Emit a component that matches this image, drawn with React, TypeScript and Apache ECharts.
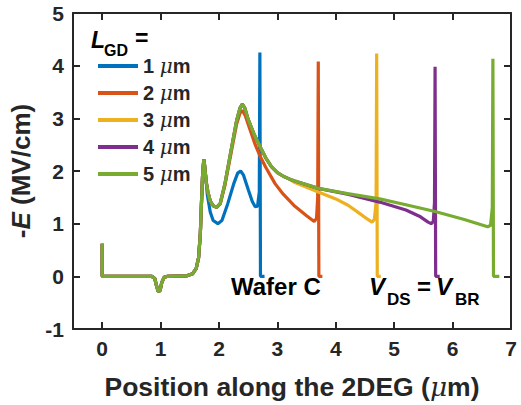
import React, { useEffect, useRef } from 'react';
import * as echarts from 'echarts';

const FONT = '"Liberation Sans", Arial, Helvetica, sans-serif';
const INK = '#262626';

const xTicks = [0, 1, 2, 3, 4, 5, 6, 7];
const seriesNames = ['1 μm', '2 μm', '3 μm', '4 μm', '5 μm'];
const colors = ['#0072BD', '#D95319', '#EDB120', '#7E2F8E', '#77AC30'];

// shared part of all curves (source side, first peak)
const commonStart = [
  [0, 0.62], [0, 0], [0.85, 0], [0.9, -0.04], [0.93, -0.18], [0.96, -0.29], [0.99, -0.27],
  [1.02, -0.12], [1.06, -0.02], [1.12, 0], [1.45, 0.01], [1.55, 0.05], [1.61, 0.15],
  [1.65, 0.35], [1.68, 0.8], [1.7, 1.4], [1.72, 1.95], [1.74, 2.22], [1.76, 2.05], [1.78, 1.8],
];

const blueTail = [
  [1.8, 1.55], [1.85, 1.22], [1.9, 1.06], [1.98, 1.0], [2.05, 1.06], [2.15, 1.38], [2.25, 1.75],
  [2.32, 1.96], [2.37, 2.0], [2.42, 1.92], [2.5, 1.65], [2.57, 1.42], [2.62, 1.32], [2.66, 1.33],
  [2.69, 1.6], [2.7, 4.25], [2.71, 0], [2.78, 0],
];

const orangeTail = [
  [1.81, 1.6], [1.85, 1.43], [1.9, 1.34], [1.96, 1.31], [2.02, 1.37], [2.1, 1.72], [2.2, 2.3],
  [2.3, 2.88], [2.36, 3.1], [2.4, 3.15], [2.45, 3.05], [2.52, 2.82], [2.62, 2.5], [2.7, 2.29],
  [2.8, 2.07], [2.96, 1.76], [3.1, 1.56], [3.3, 1.33], [3.5, 1.15], [3.63, 1.04], [3.67, 1.1],
  [3.69, 1.5], [3.7, 4.08], [3.71, 0], [3.77, 0],
];

const secondPeak = [
  [1.81, 1.6], [1.85, 1.43], [1.9, 1.34], [1.96, 1.31], [2.02, 1.38], [2.1, 1.75], [2.2, 2.35],
  [2.3, 2.95], [2.36, 3.2], [2.4, 3.27], [2.44, 3.2], [2.5, 2.98], [2.6, 2.7], [2.7, 2.47],
  [2.8, 2.25], [2.9, 2.08], [3.0, 1.97], [3.1, 1.9], [3.2, 1.85],
];

const yellowTail = [
  [3.3, 1.78], [3.7, 1.6], [4.0, 1.47], [4.21, 1.35], [4.4, 1.2], [4.55, 1.08], [4.62, 1.03],
  [4.66, 1.08], [4.69, 1.4], [4.7, 4.23], [4.71, 0], [4.77, 0],
];

const purpleTail = [
  [3.3, 1.81], [3.7, 1.67], [4.2, 1.56], [4.75, 1.41], [5.2, 1.26], [5.45, 1.13], [5.58, 1.03],
  [5.64, 1.0], [5.67, 1.05], [5.69, 1.4], [5.7, 3.98], [5.71, 0], [5.78, 0],
];

const greenTail = [
  [3.3, 1.81], [3.7, 1.67], [4.2, 1.57], [4.75, 1.47], [5.2, 1.36], [5.7, 1.23], [6.2, 1.08],
  [6.6, 0.94], [6.65, 0.97], [6.68, 1.3], [6.69, 4.13], [6.7, 0], [6.8, 0],
];

const seriesData = [
  [...commonStart, ...blueTail],
  [...commonStart, ...orangeTail],
  [...commonStart, ...secondPeak, ...yellowTail],
  [...commonStart, ...secondPeak, ...purpleTail],
  [...commonStart, ...secondPeak, ...greenTail],
];

export default function App() {
  const ref = useRef<HTMLDivElement>(null);
  useEffect(() => {
    const chart = echarts.init(ref.current!, null, { renderer: 'svg' });
    const lineStyle = { color: INK, width: 2 };
    const txt = (extra: any) => ({ color: INK, fontFamily: FONT, fontWeight: 'bold', ...extra });
    chart.setOption({
      animation: false,
      backgroundColor: '#ffffff',
      color: colors,
      grid: { left: 73, right: 10, top: 13, bottom: 74, containLabel: false },
      xAxis: [
        {
          type: 'value', min: -0.5, max: 7, position: 'bottom',
          axisLine: { show: true, onZero: false, lineStyle },
          axisTick: { show: true, inside: true, length: 7, customValues: xTicks, lineStyle },
          axisLabel: { customValues: xTicks, margin: 9, ...txt({ fontSize: 21 }) },
          splitLine: { show: false },
          name: '{a|Position along the 2DEG (}{i|μ}{a|m)}',
          nameLocation: 'middle', nameGap: 44,
          nameTextStyle: txt({
            fontSize: 26,
            rich: {
              a: txt({ fontSize: 26.5 }),
              i: txt({ fontSize: 26.5, fontStyle: 'italic', fontFamily: '"DejaVu Serif", serif', fontWeight: 'normal' }),
            },
          }),
        },
        {
          type: 'value', min: -0.5, max: 7, position: 'top',
          axisLine: { show: true, onZero: false, lineStyle },
          axisTick: { show: true, inside: true, length: 7, customValues: xTicks, lineStyle },
          axisLabel: { show: false },
          splitLine: { show: false },
        },
      ],
      yAxis: [
        {
          type: 'value', min: -1, max: 5, interval: 1, position: 'left',
          axisLine: { show: true, onZero: false, lineStyle },
          axisTick: { show: true, inside: true, length: 7, lineStyle },
          axisLabel: { margin: 9, ...txt({ fontSize: 21 }) },
          splitLine: { show: false },
          name: '{a|-}{i|E}{a| (MV/cm)}',
          nameLocation: 'middle', nameGap: 37, nameRotate: 90,
          nameTextStyle: txt({
            fontSize: 26,
            rich: {
              a: txt({ fontSize: 26 }),
              i: txt({ fontSize: 26, fontStyle: 'italic' }),
            },
          }),
        },
        {
          type: 'value', min: -1, max: 5, interval: 1, position: 'right',
          axisLine: { show: true, onZero: false, lineStyle },
          axisTick: { show: true, inside: true, length: 7, lineStyle },
          axisLabel: { show: false },
          splitLine: { show: false },
        },
      ],
      legend: {
        orient: 'vertical', left: 93, top: 51,
        icon: 'rect', itemWidth: 40, itemHeight: 4, itemGap: 7,
        data: seriesNames,
        formatter: (name: string) => `{n|${name.split(' ')[0]} }{i|μ}{n|m}`,
        textStyle: txt({
          fontSize: 20, lineHeight: 20,
          rich: {
            n: txt({ fontSize: 20, lineHeight: 20 }),
            i: txt({ fontSize: 20, lineHeight: 20, fontStyle: 'italic', fontFamily: '"DejaVu Serif", serif', fontWeight: 'normal' }),
          },
        }),
      },
      graphic: [
        { type: 'text', left: 91, top: 28, style: txt({ text: 'L', fontSize: 23, fontStyle: 'italic' }) },
        { type: 'text', left: 104, top: 42, style: txt({ text: 'GD', fontSize: 16 }) },
        { type: 'text', left: 135, top: 26, style: txt({ text: '=', fontSize: 23 }) },
        { type: 'text', left: 231, top: 274, style: txt({ text: 'Wafer C', fontSize: 24 }) },
        { type: 'text', left: 369, top: 274, style: txt({ text: 'V', fontSize: 24, fontStyle: 'italic' }) },
        { type: 'text', left: 387, top: 291, style: txt({ text: 'DS', fontSize: 17 }) },
        { type: 'text', left: 417, top: 274, style: txt({ text: '=', fontSize: 24 }) },
        { type: 'text', left: 436, top: 274, style: txt({ text: 'V', fontSize: 24, fontStyle: 'italic' }) },
        { type: 'text', left: 455, top: 291, style: txt({ text: 'BR', fontSize: 17 }) },
      ],
      series: seriesNames.map((name, i) => ({
        name, type: 'line', data: seriesData[i], showSymbol: false, symbol: 'none',
        lineStyle: { width: 3.2, color: colors[i] }, itemStyle: { color: colors[i] },
        z: 2 + i,
      })),
    });
    return () => chart.dispose();
  }, []);
  return <div ref={ref} style={{ position: 'fixed', left: 0, top: 0, width: 521, height: 405 }} />;
}
